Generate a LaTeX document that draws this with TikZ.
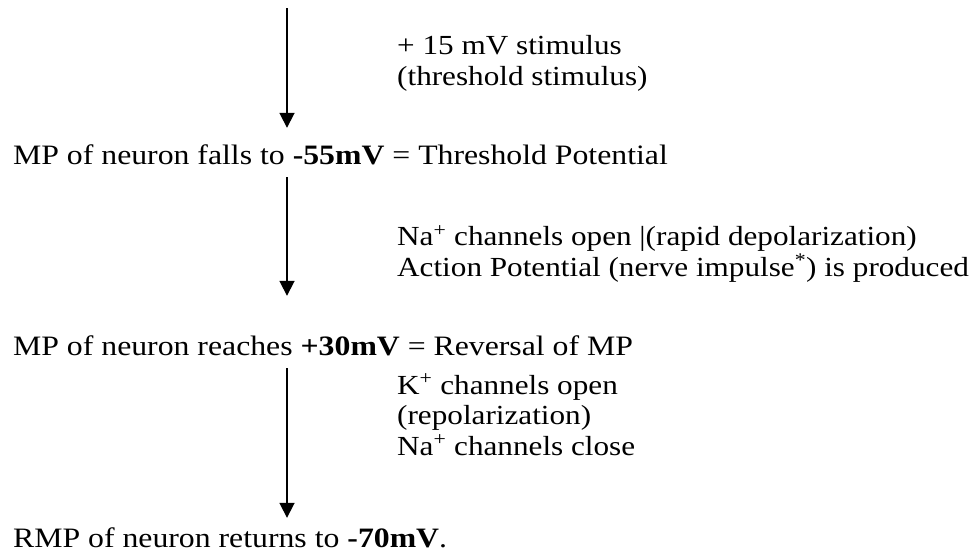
\documentclass[tikz,border=0pt]{standalone}
\usepackage{fontspec}
\setmainfont{Liberation Serif}[FakeStretch=1.13]
\usetikzlibrary{arrows.meta}
\begin{document}
\begin{tikzpicture}[x=1pt,y=-1pt,
    every node/.style={font=\fontsize{27.6}{30.5}\selectfont},
    main/.style={anchor=base west,inner sep=0pt,text height=20pt,text depth=6pt,
                 font=\fontsize{28.1}{30.5}\selectfont},
    note/.style={anchor=base west,inner sep=0pt,align=left},
    flow/.style={line width=1.8pt,-{Triangle[width=15pt,length=15pt]}}]
  \useasboundingbox (0,0) rectangle (980,552);
  \coordinate (top) at (287,8);
  % the three stages
  \node[main] (mp55) at (13,164)
       {MP of neuron falls to \textbf{-55mV} = Threshold Potential};
  \node[main] (mp30) at (13,355)
       {MP of neuron reaches \textbf{+30mV} = Reversal of MP};
  \node[main] (rmp) at (13,547)
       {RMP of neuron returns to \textbf{-70mV}.};
  % what happens in between (placed at the last line)
  \node[note] (stim) at (397,85) {+ 15 mV stimulus\\(threshold stimulus)};
  \node[note] (depol) at (397,276)
       {Na\textsuperscript{+} channels open |(rapid depolarization)\\
        Action Potential (nerve impulse\textsuperscript{*}) is produced};
  \node[note] (repol) at (397,455)
       {K\textsuperscript{+} channels open\\(repolarization)\\
        Na\textsuperscript{+} channels close};
  \draw[flow,shorten >=16pt] (top) -- (top |- mp55.north);
  \draw[flow,shorten <=7pt,shorten >=39pt] (top |- mp55.south) -- (top |- mp30.north);
  \draw[flow,shorten <=7pt,shorten >=9pt] (top |- mp30.south) -- (top |- rmp.north);
\end{tikzpicture}
\end{document}
